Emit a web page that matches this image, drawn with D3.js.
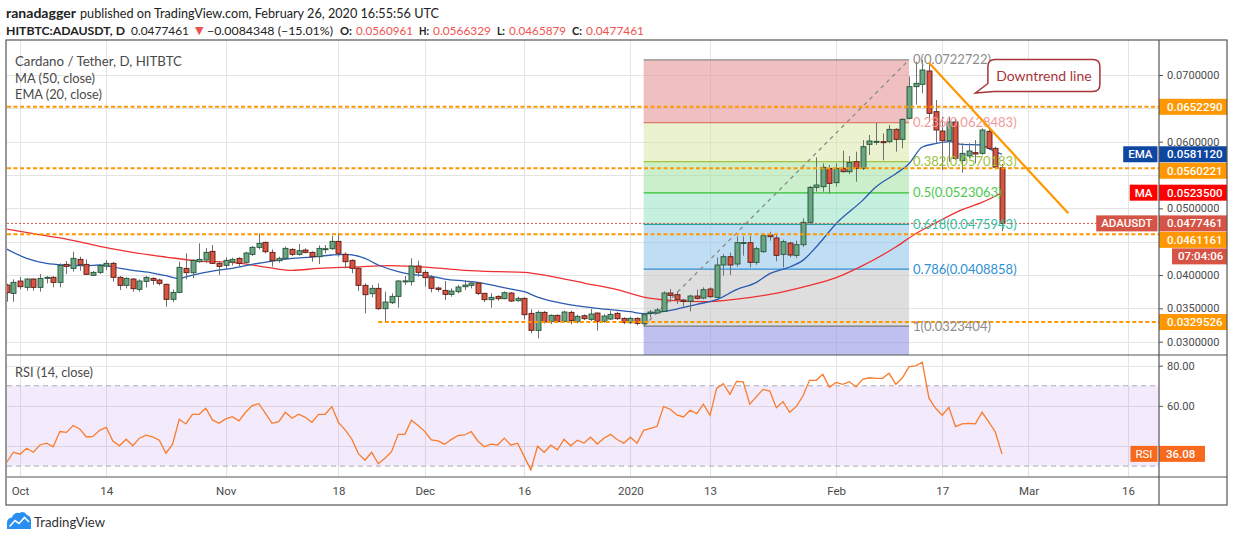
<!DOCTYPE html>
<html><head><meta charset="utf-8">
<script src="https://cdn.jsdelivr.net/npm/d3@7"></script>
<style>
html,body{margin:0;padding:0;background:#fff;}
svg{display:block;}
</style></head><body>
<svg id="c" width="1234" height="541"></svg>
<script>
// ---------------- DATA ----------------
const startDate = "2019-09-29"; // first visible daily candle
const opens = [.0385,.03725,.0391,.03815,.0394,.03815,.0395,.03965,.0389,.0416,
.041,.04235,.0416,.03995,.0404,.04135,.04175,.03965,.03845,.0394,
.03785,.03905,.0395,.03925,.0386,.03635,.0374,.041,.04035,.042,
.04225,.04355,.04175,.04145,.04195,.0425,.0419,.0431,.04415,.0449,
.0434,.04215,.0425,.04385,.0431,.04375,.0434,.04275,.0439,.04395,
.04505,.0431,.0422,.041,.03845,.0372,.038,.03495,.03585,.0368,
.0391,.039,.04135,.0404,.0396,.03805,.0377,.0371,.0375,.03825,
.03845,.0388,.03725,.0363,.0368,.03645,.0373,.03615,.0365,.03425,
.0317,.0344,.03305,.03395,.03305,.0344,.033,.0339,.03335,.0343,
.03305,.0334,.03425,.0335,.03285,.0335,.0327,.03425,.0343,.03455,
.0373,.03705,.03625,.03605,.03685,.03655,.0379,.03665,.0415,.04275,
.04165,.04485,.04485,.0419,.0435,.046,.04555,.0431,.0448,.04295,
.04455,.0479,.05315,.05325,.056,.05385,.056,.0555,.057,.056,
.0596,.06,.06,.06,.06185,.06035,.0635,.06825,.0686,.0706,
.0645,.0616,.06015,.06295,.05715,.05785,.05835,.05825,.06155,.059,
.0560961];
const highs = [.0387,.03935,.03975,.0395,.0395,.04015,.03985,.03985,.04175,.0421,
.0435,.04275,.04235,.0406,.0416,.04225,.04195,.03985,.03965,.0395,
.03935,.03985,.03965,.03945,.03875,.03785,.042,.04325,.04235,.04475,
.04405,.0445,.0421,.04265,.0426,.04265,.0435,.04435,.04625,.045,
.04385,.04275,.04425,.044,.04465,.044,.04355,.04445,.0445,.04585,
.04625,.0434,.04235,.04125,.03875,.0385,.03875,.0375,.03725,.03925,
.03985,.0425,.04215,.04075,.04,.03825,.0391,.038,.0385,.03925,
.0391,.03895,.03735,.03725,.03695,.03755,.03745,.03675,.03665,.03485,
.03465,.0346,.0341,.0341,.03465,.03465,.03405,.0341,.0349,.0344,
.0341,.0346,.0345,.03365,.03375,.03365,.03435,.03475,.03505,.03755,
.0379,.03755,.0364,.03705,.0378,.03815,.03815,.04265,.04315,.04335,
.0458,.0458,.0459,.04425,.04615,.0465,.04615,.0453,.045,.04515,
.0485,.05335,.05765,.05675,.0565,.05675,.05865,.05785,.0585,.06025,
.061,.06285,.06125,.0625,.062,.0635,.0698,.0720,.0722722,.0719,
.06625,.06375,.06375,.0635,.05975,.05975,.06025,.062,.062,.05925,
.0566329];
const lows = [.036,.036,.03785,.03765,.03765,.0375,.03875,.03815,.03815,.04015,
.0405,.04065,.04,.03985,.04015,.04075,.039,.03775,.038,.0375,
.0375,.03815,.03855,.03845,.03525,.03595,.03725,.03935,.0395,.04185,
.04185,.04165,.04,.04085,.04145,.04125,.04175,.04285,.04385,.04325,
.04125,.04185,.04235,.04285,.0429,.04325,.042,.04165,.04325,.04375,
.04275,.041,.04025,.0376,.03425,.03665,.03475,.0331,.03565,.0351,
.0385,.0384,.03975,.03825,.0374,.0375,.03625,.03675,.03725,.03775,
.038,.037,.03595,.0351,.03615,.03635,.03595,.036,.03335,.03125,
.0305,.03275,.03265,.0328,.0329,.0326,.03275,.03325,.0331,.03165,
.03285,.03325,.03325,.03265,.03265,.03245,.03234,.03365,.03415,.03445,
.0359,.03565,.03525,.03455,.03635,.03635,.03655,.03655,.0399,.04,
.04125,.0429,.04115,.04155,.0433,.04515,.04205,.04115,.04265,.04255,
.0442,.0475,.0525,.0525,.05225,.05325,.05535,.05515,.054,.05575,
.058,.0595,.0572,.05975,.0585,.059,.06335,.06555,.06725,.063,
.0598,.05575,.057,.05725,.05535,.0575,.05675,.058,.05875,.05585,
.0465879];
const closes = [.03735,.0389,.03825,.0394,.03815,.0395,.03965,.0389,.04145,.0413,
.0425,.04155,.0401,.0404,.0414,.04175,.03965,.03845,.0395,.03795,
.0391,.03965,.0392,.03875,.03635,.0374,.04115,.04035,.0422,.04235,
.0434,.04175,.0413,.0422,.04235,.04175,.0433,.04415,.04475,.0435,
.04215,.0425,.044,.0431,.04365,.0434,.04275,.044,.04395,.04505,
.04325,.042,.041,.03845,.03705,.038,.03495,.03595,.0368,.0391,
.03912,.04135,.0404,.0396,.038,.03785,.0371,.0376,.0382,.0385,
.0388,.03725,.0363,.03665,.03645,.03735,.0361,.0365,.03405,.0317,
.0344,.03295,.03395,.033,.03445,.03315,.0338,.03345,.03415,.03305,
.03385,.0341,.03345,.0329,.0335,.03275,.03405,.03445,.03475,.0373,
.03695,.03635,.03605,.03685,.0365,.0378,.03675,.0415,.04275,.0415,
.04485,.04488,.0419,.04395,.0459,.04575,.04295,.045,.043,.04455,
.0479,.05315,.0535,.05615,.05375,.056,.0555,.0569,.056,.05925,
.0601,.06005,.05995,.06185,.06035,.06335,.06825,.06875,.07075,.06425,
.06175,.06015,.06295,.0575,.05825,.0586,.05815,.06175,.059,.05618,
.0477461];
const rsiValues = [31.9,36.9,35.9,38.9,36.9,40.5,41.4,39.6,47.2,46.8,
50.2,48.5,44.5,44.8,47.8,49.3,42.5,40.1,43.4,40.1,
43.9,45.4,44.5,42.9,36.4,40.9,53.3,51.0,55.8,55.8,
58.8,53.0,51.3,53.5,54.6,52.5,56.8,60.1,61.1,56.3,
51.3,52.1,56.8,53.8,55.8,54.3,51.8,55.8,55.8,59.6,
51.8,48.0,43.5,36.2,32.9,36.9,31.1,33.9,37.2,45.8,
45.8,52.8,50.2,47.3,43.0,42.5,40.9,43.2,45.2,45.5,
47.2,42.5,39.6,40.9,40.5,43.9,40.4,41.4,34.7,28.1,
39.9,36.9,40.4,38.1,43.4,40.1,42.9,41.5,44.4,41.0,
43.9,45.8,43.2,41.4,44.4,41.4,47.8,48.8,49.7,59.6,
58.3,55.5,54.5,57.8,56.1,60.8,55.3,68.7,71.1,65.7,
72.2,71.9,60.8,64.6,68.2,67.4,59.1,62.1,56.8,59.6,
64.9,72.7,72.7,75.7,69.2,71.7,70.7,72.0,69.4,73.2,
74.0,73.7,73.7,76.2,70.7,74.0,79.5,79.9,81.7,63.8,
58.8,55.3,59.3,49.7,51.0,51.3,51.0,56.8,52.1,47.0,
36.08];
// MA(50) and EMA(20) (day index from startDate, value)
const maDays   = [0,4,9,14,19,24,29,34,39,43,47,52,58,64,69,74,78,82,87,92,96,100,105,110,115,120,125,129,134,137,140,144,147,150];
const maValues = [.0469,.0462,.0454,.0443,.0434,.0427,.0421,.0419,.0412,.0407,.0410,.0412,.0414,.0411,.0407,.0405,.0404,.0398,.0388,.0378,.0367,.0362,.0360,.0364,.0371,.0382,.0396,.0414,.0442,.0462,.0478,.0498,.0509,.05235];
const emaDays   = [0,3,6,9,12,14,16,19,22,24,26,28,31,34,37,40,43,46,49,51,54,56,59,61,64,66,69,71,74,76,78,80,84,89,94,96,98,101,104,107,110,113,115,118,120,122,125,129,131,134,136,138,140,142,144,147,148,150];
const emaValues = [.0439,.0425,.04175,.0415,.0414,.0415,.0412,.0407,.0403,.0399,.0395,.0400,.0406,.0410,.0416,.0421,.0425,.0427,.0430,.0431,.0425,.0415,.0405,.0401,.0398,.0394,.0391,.0389,.0383,.0379,.0375,.0367,.0357,.0350,.0345,.0342,.0344,.0349,.0356,.0363,.0378,.0389,.0402,.0412,.0422,.0442,.0477,.0512,.0532,.0552,.0567,.0592,.0597,.0600,.0596,.0595,.0590,.058112];
const priceTicks = [0.03,0.035,0.04,0.045,0.05,0.055,0.06,0.065,0.07];
const priceTickLabelsShown = [0.03,0.035,0.04,0.05,0.06,0.07]; // others sit under price labels
const rsiTicks = [40,60,80];
const rsiBands = [70,30];
const timeTickDates = ["2019-10-01","2019-10-14","2019-11-01","2019-11-18","2019-12-01","2019-12-16","2020-01-01","2020-01-13","2020-02-01","2020-02-17","2020-03-01","2020-03-16"];
const timeTickLabels = ["Oct","14","Nov","18","Dec","16","2020","13","Feb","17","Mar","16"];
const levelPrices = [0.0652290,0.0560221,0.0461161,0.0329526];
const levelStarts = [null,null,null,"2019-11-24"];
const fibLevels = ["0","0.236","0.382","0.5","0.618","0.786","1","1.618"];
const fibPrices = [0.0722722,0.0628483,0.0570183,0.0523063,0.0475943,0.0408858,0.0323404,0.0076612];
const fibDates = ["2020-01-03","2020-02-12"];
const trendDates = ["2020-02-15","2020-03-07"];
const trendPrices = [0.07185,0.04925];
const calloutAnchor = {date:"2020-02-22", price:0.06730};
const rsiLast = 36.08;
const countdown = "07:04:06";

// ---------------- SETUP ----------------
const svg = d3.select("#c");
const FONT = "Lato, 'Open Sans', sans-serif";
const AXF = "Roboto, Lato, sans-serif";
const parse = d3.utcParse("%Y-%m-%d");
const t0 = parse(startDate);
const dayDate = i => d3.utcDay.offset(t0, i);
const PL=7, PR=1159, FR=1227, PT=40, PM=355, PB2=477, FB=505;

const x  = d3.scaleUtc().domain([parse("2019-10-01"), parse("2020-03-16")]).range([20,1128]);
const y  = d3.scaleLinear().domain([0.03,0.07]).range([341.7,75]);
const yr = d3.scaleLinear().domain([40,80]).range([446,365.7]);
const fmt7 = d3.format(".7f");

svg.append("rect").attr("width",1234).attr("height",541).attr("fill","#fff");
const defs = svg.append("defs");
defs.append("clipPath").attr("id","cm").append("rect").attr("x",PL).attr("y",PT).attr("width",PR-PL).attr("height",PM-PT);
defs.append("clipPath").attr("id","cr").append("rect").attr("x",PL).attr("y",PM).attr("width",PR-PL).attr("height",PB2-PM);

// ---------------- HEADER ----------------
function seg(g, txt, x0, x1, yb, opt={}) {
  const t = g.append("text").attr("x",x0).attr("y",yb).text(txt)
    .attr("textLength", x1-x0).attr("lengthAdjust","spacingAndGlyphs");
  if (opt.bold) t.attr("font-weight","bold");
  if (opt.fill) t.attr("fill",opt.fill);
  return t;
}
const hdr = svg.append("g").attr("font-family",FONT).attr("font-size",13.5).attr("fill","#222");
seg(hdr,"ranadagger",6,76,18,{bold:true});
seg(hdr,"published on TradingView.com, February 26, 2020 16:55:56 UTC",80,439,18);
const RED="#ef5350";
const hdr2 = svg.append("g").attr("font-family",FONT).attr("font-size",12).attr("fill","#222");
seg(hdr2,"HITBTC:ADAUSDT, D",6,125,34.5,{bold:true});
seg(hdr2,"0.0477461",131,189,34.5);
hdr2.append("text").attr("x",195).attr("y",34).attr("font-family","DejaVu Sans").attr("font-size",11).attr("fill",RED).text("▼");
seg(hdr2,"−0.0084348 (−15.01%)",207,333,34.5);
seg(hdr2,"O:",340,352,34.5,{bold:true});
seg(hdr2,"0.0560961",356,413,34.5,{fill:RED});
seg(hdr2,"H:",419,429,34.5,{bold:true});
seg(hdr2,"0.0566329",433,491,34.5,{fill:RED});
seg(hdr2,"L:",497,505,34.5,{bold:true});
seg(hdr2,"0.0465879",509,566,34.5,{fill:RED});
seg(hdr2,"C:",572,582,34.5,{bold:true});
seg(hdr2,"0.0477461",586,644,34.5,{fill:RED});

// ---------------- GRID ----------------
const grid = svg.append("g").attr("stroke","#e4e4e4").attr("stroke-width",1);
grid.selectAll("line.gv").data(timeTickDates).join("line").attr("class","gv")
  .attr("x1",d=>Math.round(x(parse(d)))+0.5).attr("x2",d=>Math.round(x(parse(d)))+0.5).attr("y1",PT).attr("y2",PB2);
grid.selectAll("line.gh").data(priceTicks).join("line").attr("class","gh")
  .attr("x1",PL).attr("x2",PR).attr("y1",d=>Math.round(y(d))+0.5).attr("y2",d=>Math.round(y(d))+0.5);
grid.selectAll("line.gr").data(rsiTicks).join("line").attr("class","gr")
  .attr("x1",PL).attr("x2",PR).attr("y1",d=>Math.round(yr(d))+0.5).attr("y2",d=>Math.round(yr(d))+0.5);

// ---------------- RSI PANE ----------------
const rp = svg.append("g").attr("clip-path","url(#cr)");
rp.append("rect").attr("x",PL).attr("width",PR-PL).attr("y",yr(rsiBands[0])).attr("height",yr(rsiBands[1])-yr(rsiBands[0]))
  .attr("fill","rgba(150,70,225,0.11)");
rp.selectAll("line.band").data(rsiBands).join("line").attr("class","band")
  .attr("x1",PL).attr("x2",PR).attr("y1",d=>yr(d)).attr("y2",d=>yr(d))
  .attr("stroke","#a9a9b3").attr("stroke-dasharray","5,4").attr("stroke-width",1);
rp.append("path").datum(rsiValues)
  .attr("d",d3.line().x((d,i)=>x(dayDate(i))).y(d=>yr(d)))
  .attr("fill","none").attr("stroke","#fb7b2a").attr("stroke-width",1.3);

// ---------------- MAIN PANE ----------------
const mp = svg.append("g").attr("clip-path","url(#cm)");
const fx0 = x(parse(fibDates[0])), fx1 = x(parse(fibDates[1]));
const fibFill = ["rgba(230,150,150,0.6)","rgba(215,230,160,0.5)","rgba(160,225,160,0.55)","rgba(150,225,195,0.55)","rgba(150,200,235,0.6)","rgba(200,200,200,0.6)","rgba(150,150,230,0.6)"];
const fibLine = ["#8a8a8a","#e07a6e","#a9c43c","#35c035","#26a69a","#2f8fd6","#787878"];
const fibText = ["#8c8c8c","#f09a9a","#9cc23c","#4cc84c","#35c0a0","#2f8fd6","#8c8c8c"];
mp.selectAll("rect.fib").data(d3.range(7)).join("rect").attr("class","fib")
  .attr("x",fx0).attr("width",fx1-fx0)
  .attr("y",i=>y(fibPrices[i])).attr("height",i=>y(fibPrices[i+1])-y(fibPrices[i]))
  .attr("fill",i=>fibFill[i]);
mp.selectAll("line.fibl").data(d3.range(7)).join("line").attr("class","fibl")
  .attr("x1",fx0).attr("x2",fx1).attr("y1",i=>y(fibPrices[i])).attr("y2",i=>y(fibPrices[i]))
  .attr("stroke",i=>fibLine[i]).attr("stroke-width",1.2);
mp.append("line").attr("x1",fx0).attr("y1",y(fibPrices[6])).attr("x2",fx1).attr("y2",y(fibPrices[0]))
  .attr("stroke","#8a8a8a").attr("stroke-width",1.3).attr("stroke-dasharray","4,4");

// EMA/MA lines
const lineGen = d3.line().x(d=>x(dayDate(d[0]))).y(d=>y(d[1])).curve(d3.curveMonotoneX);
mp.append("path").datum(d3.zip(maDays,maValues)).attr("d",lineGen).attr("fill","none").attr("stroke","#f03030").attr("stroke-width",1.3);
mp.append("path").datum(d3.zip(emaDays,emaValues)).attr("d",lineGen).attr("fill","none").attr("stroke","#2a5bb0").attr("stroke-width",1.3);

// candles
const candles = opens.map((o,i)=>({d:dayDate(i),o,h:highs[i],l:lows[i],c:closes[i]}));
const cg = mp.append("g");
cg.selectAll("line.wick").data(candles).join("line").attr("class","wick")
  .attr("x1",d=>Math.round(x(d.d))+0.5).attr("x2",d=>Math.round(x(d.d))+0.5)
  .attr("y1",d=>y(d.h)).attr("y2",d=>y(d.l)).attr("stroke","#707070").attr("stroke-width",1);
cg.selectAll("rect.body").data(candles).join("rect").attr("class","body")
  .attr("x",d=>Math.round(x(d.d))-2).attr("width",5)
  .attr("y",d=>y(Math.max(d.o,d.c))).attr("height",d=>Math.max(1,Math.abs(y(d.o)-y(d.c))))
  .attr("fill",d=>d.c>=d.o?"#6ba583":"#d75442")
  .attr("stroke",d=>d.c>=d.o?"#225437":"#5b1a13").attr("stroke-width",0.9);

// price line
const lastClose = closes[closes.length-1];
mp.append("line").attr("x1",PL).attr("x2",PR).attr("y1",y(lastClose)).attr("y2",y(lastClose))
  .attr("stroke","#d8574a").attr("stroke-width",1).attr("stroke-dasharray","2,2");

// horizontal levels
mp.selectAll("line.lvl").data(levelPrices).join("line").attr("class","lvl")
  .attr("x1",(d,i)=>levelStarts[i]?x(parse(levelStarts[i])):PL).attr("x2",PR)
  .attr("y1",d=>y(d)).attr("y2",d=>y(d))
  .attr("stroke","#ff9800").attr("stroke-width",2).attr("stroke-dasharray","4,2.5");

// fib labels
mp.selectAll("text.fibt").data(d3.range(7)).join("text").attr("class","fibt")
  .attr("x",fx1+4).attr("y",i=>y(fibPrices[i])+4.5)
  .attr("font-family",FONT).attr("font-size",13).attr("fill",i=>fibText[i])
  .text(i=>`${fibLevels[i]}(${fibPrices[i].toFixed(7)})`);

// trend line
mp.append("line").attr("x1",x(parse(trendDates[0]))).attr("y1",y(trendPrices[0]))
  .attr("x2",x(parse(trendDates[1]))).attr("y2",y(trendPrices[1]))
  .attr("stroke","#ff9800").attr("stroke-width",2.2);

// callout
const ax0 = x(parse(calloutAnchor.date)), ay0 = y(calloutAnchor.price);
const bx = ax0+12.5, by = ay0-33.5, bw = 112, bh = 32, r = 7;
mp.append("path").attr("d",
  `M${bx+r},${by} H${bx+bw-r} Q${bx+bw},${by} ${bx+bw},${by+r} V${by+bh-r} Q${bx+bw},${by+bh} ${bx+bw-r},${by+bh}
   H${bx+6} L${ax0},${ay0} L${bx},${by+bh-8} V${by+r} Q${bx},${by} ${bx+r},${by} Z`)
  .attr("fill","#fff").attr("stroke","#a8343a").attr("stroke-width",1.5);
mp.append("text").attr("x",bx+bw/2).attr("y",by+bh/2+5).attr("text-anchor","middle")
  .attr("font-family",FONT).attr("font-size",14).attr("fill","#a8343a").text("Downtrend line");

// legends
const lg = svg.append("g").attr("font-family",FONT).attr("font-size",13).attr("fill","#4a4a4a");
seg(lg,"Cardano / Tether, D, HITBTC",15,182,65.5);
seg(lg,"MA (50, close)",15,95,82.5);
seg(lg,"EMA (20, close)",15,102,99);
seg(lg,"RSI (14, close)",15,93,377);

// ---------------- AXES ----------------
const ayAxis = svg.append("g").attr("transform",`translate(${PR},0)`)
  .call(d3.axisRight(y).tickValues(priceTicks).tickFormat(d=>priceTickLabelsShown.includes(d)?fmt7(d):"").tickSize(4).tickPadding(4));
ayAxis.select(".domain").remove();
ayAxis.selectAll("text").attr("font-family",AXF).attr("font-size",11).attr("fill","#4a4a4a");
ayAxis.selectAll("line").attr("stroke","#555");

const arAxis = svg.append("g").attr("transform",`translate(${PR},0)`)
  .call(d3.axisRight(yr).tickValues(rsiTicks).tickFormat(d=>d===40?"":d3.format(".2f")(d)).tickSize(4).tickPadding(4));
arAxis.select(".domain").remove();
arAxis.selectAll("text").attr("font-family",AXF).attr("font-size",11).attr("fill","#4a4a4a");
arAxis.selectAll("line").attr("stroke","#555");

const axX = svg.append("g").attr("transform",`translate(0,${PB2})`)
  .call(d3.axisBottom(x).tickValues(timeTickDates.map(parse)).tickFormat((d,i)=>timeTickLabels[i]).tickSize(0).tickPadding(10));
axX.select(".domain").remove();
axX.selectAll("text").attr("font-family",AXF).attr("font-size",11.5).attr("fill","#4a4a4a");

// ---------------- PRICE LABELS ----------------
const labels = [
  {v:levelPrices[0], txt:fmt7(levelPrices[0]), col:"#ff9800"},
  {v:emaValues[emaValues.length-1], txt:fmt7(emaValues[emaValues.length-1]), col:"#0e47a1", tag:"EMA"},
  {v:levelPrices[1], txt:fmt7(levelPrices[1]), col:"#ff9800"},
  {v:maValues[maValues.length-1], txt:fmt7(maValues[maValues.length-1]), col:"#ff0000", tag:"MA"},
  {v:lastClose, txt:fmt7(lastClose), col:"#d65446", tag:"ADAUSDT"},
  {v:lastClose, off:18, txt:countdown, col:"#d65446", x0:1172},
  {v:levelPrices[2], txt:fmt7(levelPrices[2]), col:"#ff9800"},
  {v:levelPrices[3], txt:fmt7(levelPrices[3]), col:"#ff9800"}
];
labels.forEach(l=>l.ny = y(l.v)+(l.off||0));
labels.sort((a,b)=>a.ny-b.ny);
let prev=-1e9;
labels.forEach(l=>{ l.py = Math.max(l.ny, prev+16.5); prev=l.py; });
const lb = svg.append("g").attr("font-family",AXF).attr("font-size",11.5);
labels.forEach(l=>{
  const x0 = l.x0||PR;
  lb.append("rect").attr("x",x0).attr("y",l.py-8).attr("width",FR-x0).attr("height",16).attr("fill",l.col);
  lb.append("text").attr("x",x0===PR?1167:x0+6).attr("y",l.py+4).attr("fill","#fff").attr("font-weight",500).text(l.txt);
  if (l.tag) {
    const t = lb.append("text").attr("y",l.py+4).attr("fill","#fff").attr("font-weight",500).text(l.tag);
    const w = t.node().getComputedTextLength();
    const tx0 = PR-1.5-w-10;
    lb.insert("rect","text").attr("x",tx0).attr("y",l.py-8).attr("width",w+10).attr("height",16).attr("fill",l.col);
    t.attr("x",tx0+5).raise();
  }
});
// RSI label
{
  const py = yr(rsiLast);
  lb.append("rect").attr("x",PR).attr("y",py-8).attr("width",46).attr("height",16).attr("fill","#f7691c");
  lb.append("text").attr("x",1166).attr("y",py+4).attr("fill","#fff").attr("font-weight",500).text(rsiLast.toFixed(2));
  const t = lb.append("text").attr("y",py+4).attr("fill","#fff").text("RSI");
  const w = t.node().getComputedTextLength();
  lb.insert("rect","text").attr("x",PR-1.5-w-10).attr("y",py-8).attr("width",w+10).attr("height",16).attr("fill","#f7691c");
  t.attr("x",PR-1.5-w-5).raise();
}

// ---------------- FRAME ----------------
const fr = svg.append("g").attr("stroke","#555").attr("fill","none").attr("stroke-width",1.2);
fr.append("rect").attr("x",PL-1).attr("y",PT).attr("width",FR-PL+1).attr("height",FB-PT);
fr.append("line").attr("x1",PR).attr("x2",PR).attr("y1",PT).attr("y2",FB);
fr.append("line").attr("x1",PL).attr("x2",FR).attr("y1",PM).attr("y2",PM);
fr.append("line").attr("x1",PL).attr("x2",FR).attr("y1",PB2).attr("y2",PB2);

// ---------------- FOOTER ----------------
const ft = svg.append("g");
ft.append("path").attr("d","M7,529 L7,523 Q7,518 12,517.5 Q14,512 19.5,513 Q24,510.5 27,515 Q31,516 31,521 L31,529 Z").attr("fill","#2a8ff0");
ft.append("path").attr("d","M9.5,526.5 L15,520.5 L19,523.5 L24.5,517.5 L29,522").attr("fill","none").attr("stroke","#fff").attr("stroke-width",1.6);
ft.append("text").attr("x",34).attr("y",526.5).attr("font-family",FONT).attr("font-size",13.5).attr("fill","#333")
  .attr("textLength",71).attr("lengthAdjust","spacingAndGlyphs").text("TradingView");
</script>
</body></html>
